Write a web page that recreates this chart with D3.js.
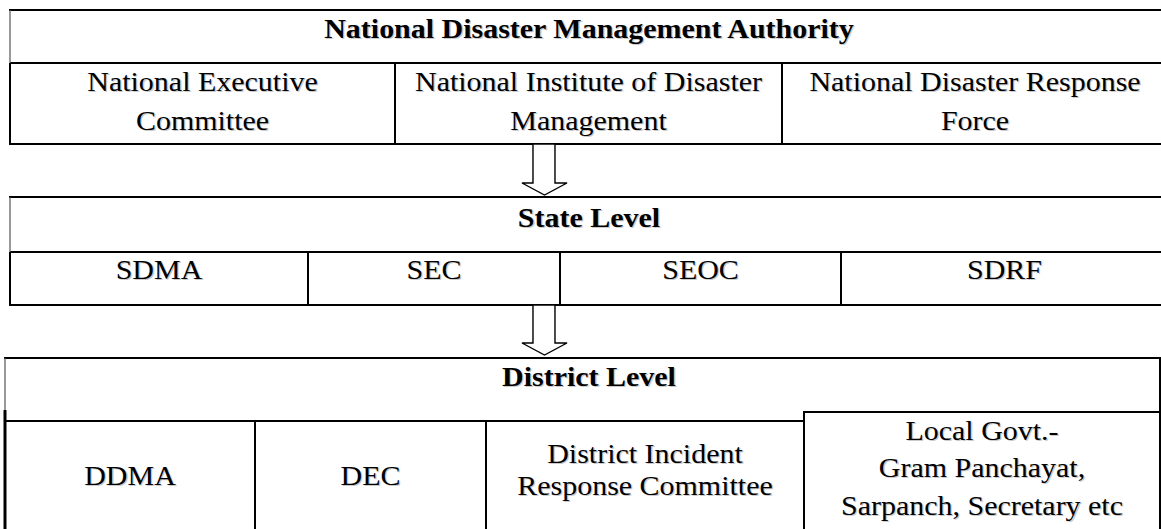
<!DOCTYPE html>
<html>
<head>
<meta charset="utf-8">
<script src="https://cdn.jsdelivr.net/npm/d3@7"></script>
<style>
  html, body { margin: 0; padding: 0; background: #fff; }
  svg { display: block; }
</style>
</head>
<body>
<svg id="chart" width="1161" height="529"></svg>
<script>
// ---- Data (text content) ----
const nationalTitle = "National Disaster Management Authority";
const nationalUnits = [
  ["National Executive", "Committee"],
  ["National Institute of Disaster", "Management"],
  ["National Disaster Response", "Force"]
];
const stateTitle = "State Level";
const stateUnits = [["SDMA"], ["SEC"], ["SEOC"], ["SDRF"]];
const districtTitle = "District Level";
const districtUnits = [
  ["DDMA"],
  ["DEC"],
  ["District Incident", "Response Committee"],
  ["Local Govt.-", "Gram Panchayat,", "Sarpanch, Secretary etc"]
];

// ---- Layout ----
const svg = d3.select("#chart");
const FONT = "'Liberation Serif', 'Times New Roman', serif";
const FS = 27, SX = 1.11;

function drawText(g, lines, cx, baselines, bold) {
  lines.forEach((t, i) => {
    [["#a8a8a8", 1.3, 1.3, 0.6], ["#000", 0, 0, 1]].forEach(([fill, dx, dy, op]) => {
      g.append("text")
        .attr("transform", `translate(${cx + dx},${baselines[i] + dy}) scale(${SX},1)`)
        .attr("text-anchor", "middle")
        .attr("font-family", FONT)
        .attr("font-size", FS)
        .attr("font-weight", bold ? "bold" : "normal")
        .attr("fill", fill)
        .attr("opacity", op)
        .text(t);
    });
  });
}
function line(g, x1, y1, x2, y2, w = 2, c = "#000") {
  g.append("line").attr("x1", x1).attr("y1", y1).attr("x2", x2).attr("y2", y2)
    .attr("stroke", c).attr("stroke-width", w);
}
function arrow(g, top, headY, tip) {
  const x = d3.scaleLinear().domain([0, 1]).range([522, 567]);
  const pts = [
    [x(0.244), top], [x(0.733), top], [x(0.733), headY], [x(1), headY],
    [x(0.5), tip], [x(0), headY], [x(0.244), headY]
  ];
  g.append("path").attr("d", d3.line()(pts) + "Z")
    .attr("fill", "#fff").attr("stroke", "#000").attr("stroke-width", 1.4)
    .attr("stroke-linejoin", "miter");
}

// ---- National table ----
const gN = svg.append("g");
{
  const L = 10, R = 1168, T = 10, H = 63, B = 144;
  const xs = [L, 395, 782, R];
  line(gN, L - 1, T, R, T);
  line(gN, L, H, R, H);
  line(gN, L - 1, B, R, B);
  line(gN, L, T, L, H, 1.2, "#555");
  line(gN, L, H, L, B, 2);
  xs.slice(1, -1).forEach(x => line(gN, x, H, x, B, 2));
  drawText(gN, [nationalTitle], 589, [37.5], true);
  nationalUnits.forEach((u, i) => drawText(gN, u, (xs[i] + xs[i + 1]) / 2, [90.5, 129.5], false));
}
arrow(svg.append("g"), 144, 183, 195);

// ---- State table ----
const gS = svg.append("g");
{
  const L = 10, R = 1168, T = 197, H = 252, B = 305;
  const xs = [L, 308, 560, 841, R];
  line(gS, L - 1, T, R, T);
  line(gS, L, H, R, H);
  line(gS, L - 1, B, R, B);
  line(gS, L, T, L, H, 1.2, "#555");
  line(gS, L, H, L, B, 2);
  xs.slice(1, -1).forEach(x => line(gS, x, H, x, B, 2));
  drawText(gS, [stateTitle], 589, [227], true);
  stateUnits.forEach((u, i) => drawText(gS, u, (xs[i] + xs[i + 1]) / 2, [279], false));
}
arrow(svg.append("g"), 305, 343, 355);

// ---- District table ----
const gD = svg.append("g");
{
  const L = 5, R = 1160, T = 358, H = 421, H2 = 412, B = 540;
  const xs = [L, 255, 486, 804, R];
  line(gD, L - 1, T, R + 1, T);
  line(gD, L, H, 804, H);
  line(gD, 804 - 1, H2, R, H2);
  line(gD, L, T, L, 410, 1.2, "#555");
  line(gD, L, 410, L, B, 3);
  line(gD, R, T, R, B, 2);
  line(gD, 255, H, 255, B, 2);
  line(gD, 486, H, 486, B, 2);
  line(gD, 804, H2, 804, B, 2);
  drawText(gD, [districtTitle], 589, [386], true);
  drawText(gD, districtUnits[0], (xs[0] + xs[1]) / 2, [485], false);
  drawText(gD, districtUnits[1], (xs[1] + xs[2]) / 2, [485], false);
  drawText(gD, districtUnits[2], (xs[2] + xs[3]) / 2, [463, 495], false);
  drawText(gD, districtUnits[3], (xs[3] + xs[4]) / 2, [440, 477, 515], false);
}
</script>
</body>
</html>
